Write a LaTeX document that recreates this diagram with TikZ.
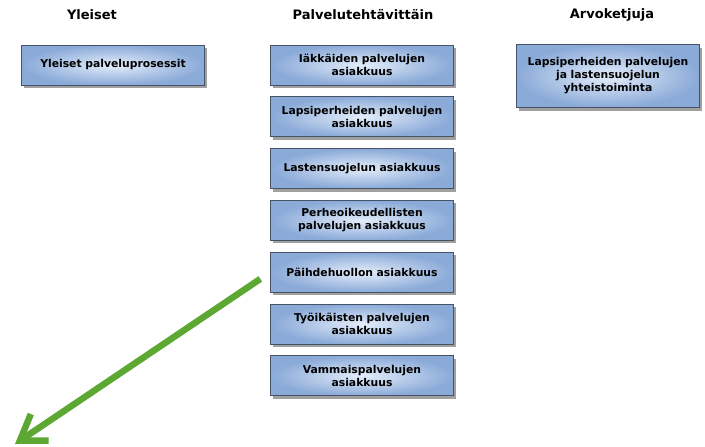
\documentclass[tikz,border=0pt]{standalone}
\usepackage{fontspec}
\setmainfont{DejaVu Sans}
\usetikzlibrary{positioning, arrows.meta, shadows}
\definecolor{boxblue}{RGB}{138,170,216}
\definecolor{boxlight}{RGB}{228,237,250}
\definecolor{boxedge}{RGB}{72,82,102}
\definecolor{arrowgreen}{RGB}{92,168,50}
\tikzset{x=1pt, y=-1pt, % pixel units, y grows downwards
box/.style={draw=boxedge, line width=0.8pt, inner color=boxlight, outer color=boxblue,
  minimum width=180pt, minimum height=40pt, text width=176pt, align=center,
  font=\bfseries\fontsize{10.8}{13}\selectfont,
  drop shadow={shadow xshift=2.5pt, shadow yshift=-3pt, opacity=0.75}}, % the blue boxes
header/.style={font=\bfseries\fontsize{13}{15}\selectfont}, % column titles
greenarrow/.style={draw=arrowgreen, line width=6.5pt, -{Straight Barb[length=24pt,width=32pt]}},
}

\begin{document}
\begin{tikzpicture}
  \useasboundingbox (0,0) rectangle (705,447);

  \node[header] (yleiset) at (92,15) {Yleiset};
  \node[header] (tehtavat) at (363,15) {Palvelutehtävittäin};
  \node[header] (ketjut) at (612,15) {Arvoketjuja};

  \node[box] (prosessit) at (113,65) {Yleiset palveluprosessit};

  \node[box] (iakkaat) at (362,65) {Iäkkäiden palvelujen\\asiakkuus};
  \node[box, below=11pt of iakkaat] (lapsiperheet) {Lapsiperheiden palvelujen\\asiakkuus};
  \node[box, below=11pt of lapsiperheet] (lastensuojelu) {Lastensuojelun asiakkuus};
  \node[box, below=11pt of lastensuojelu] (perheoikeus) {Perheoikeudellisten\\palvelujen asiakkuus};
  \node[box, below=11pt of perheoikeus] (paihde) {Päihdehuollon asiakkuus};
  \node[box, below=11pt of paihde] (tyoikaiset) {Työikäisten palvelujen\\asiakkuus};
  \node[box, below=11pt of tyoikaiset] (vammais) {Vammaispalvelujen\\asiakkuus};

  \node[box, minimum width=177pt, minimum height=63pt] (yhteistoiminta) at (608,76)
    {Lapsiperheiden palvelujen\\ja lastensuojelun\\yhteistoiminta};

  \coordinate (kohde) at (15,444);
  \draw[greenarrow, shorten <=12pt] (paihde.west) -- (kohde);

\end{tikzpicture}
\end{document}
